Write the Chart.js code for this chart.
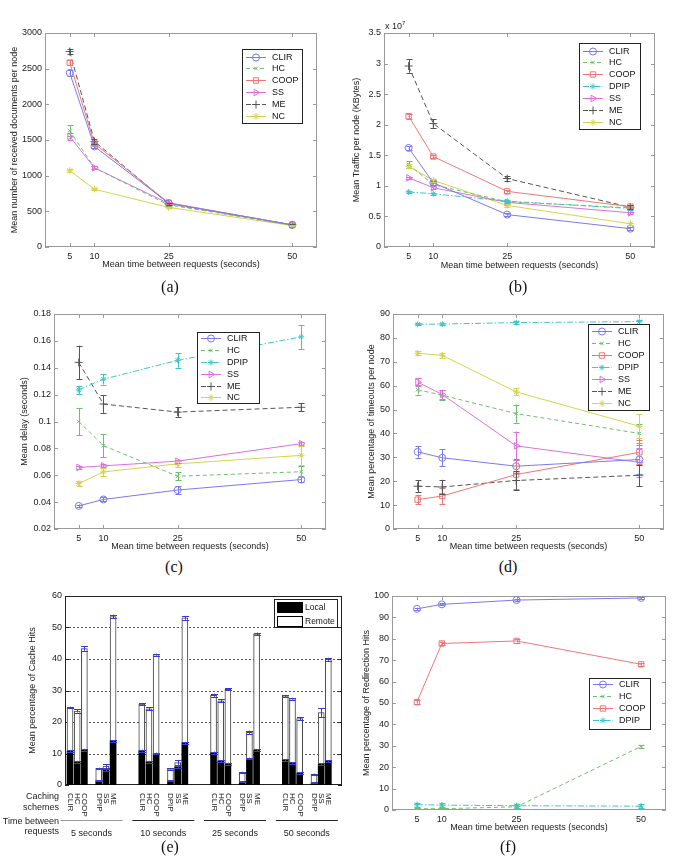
<!DOCTYPE html>
<html>
<head>
<meta charset="utf-8">
<script src="https://cdn.jsdelivr.net/npm/chart.js@4.4.0/dist/chart.umd.min.js"></script>
<style>
  html, body { margin: 0; padding: 0; background: #fff; }
  body { width: 685px; height: 868px; position: relative; overflow: hidden; }
  canvas { position: absolute; }
  .cap { position: absolute; font-family: "Liberation Serif", "Times New Roman", serif; font-size: 16px; color: #111; transform: translate(-50%, -50%); }
  .exp { position: absolute; font-family: "Liberation Sans", Arial, sans-serif; font-size: 9px; color: #222; }
  .exp sup { font-size: 6px; }
</style>
</head>
<body>
<canvas id="chartA"></canvas>
<canvas id="chartB"></canvas>
<canvas id="chartC"></canvas>
<canvas id="chartD"></canvas>
<canvas id="chartE"></canvas>
<canvas id="chartF"></canvas>
<div class="exp" style="left:385px;top:20px">x 10<sup>7</sup></div>
<div class="cap" style="left:170px;top:287px">(a)</div>
<div class="cap" style="left:518px;top:287px">(b)</div>
<div class="cap" style="left:174px;top:567px">(c)</div>
<div class="cap" style="left:508px;top:567px">(d)</div>
<div class="cap" style="left:170px;top:847px">(e)</div>
<div class="cap" style="left:508px;top:847px">(f)</div>
<script>
const times = [5, 10, 25, 50]
const timeTicks = [5, 10, 25, 50]

// (a) mean number of received documents per node
const docsTicks = [0, 500, 1000, 1500, 2000, 2500, 3000]
const docsCLIR = [2440, 1410, 615, 310]
const docsHC = [1630, 1110, 590, 305]
const docsCOOP = [2585, 1450, 620, 310]
const docsSS = [1550, 1110, 610, 310]
const docsME = [2740, 1480, 605, 310]
const docsNC = [1070, 810, 555, 300]
const docsErrCLIR = [40, 25, 15, 10]
const docsErrHC = [75, 20, 15, 10]
const docsErrCOOP = [35, 25, 15, 10]
const docsErrSS = [45, 20, 15, 10]
const docsErrME = [40, 30, 15, 10]
const docsErrNC = [20, 15, 10, 10]

// (b) mean traffic per node (x 10^7 KBytes)
const trafficTicks = [0, 0.5, 1, 1.5, 2, 2.5, 3, 3.5]
const trafficCLIR = [1.62, 1.05, 0.53, 0.30]
const trafficHC = [1.35, 1.02, 0.74, 0.64]
const trafficCOOP = [2.14, 1.48, 0.91, 0.66]
const trafficDPIP = [0.90, 0.87, 0.75, 0.63]
const trafficSS = [1.13, 0.97, 0.73, 0.56]
const trafficME = [2.96, 2.02, 1.12, 0.65]
const trafficNC = [1.32, 1.09, 0.68, 0.38]
const trafficErrCLIR = [0.03, 0.03, 0.02, 0.02]
const trafficErrHC = [0.05, 0.03, 0.02, 0.02]
const trafficErrCOOP = [0.04, 0.03, 0.02, 0.02]
const trafficErrDPIP = [0.02, 0.02, 0.02, 0.02]
const trafficErrSS = [0.02, 0.02, 0.02, 0.02]
const trafficErrME = [0.11, 0.07, 0.04, 0.03]
const trafficErrNC = [0.03, 0.03, 0.02, 0.02]

// (c) mean delay (seconds)
const delayTicks = [0.02, 0.04, 0.06, 0.08, 0.1, 0.12, 0.14, 0.16, 0.18]
const delayCLIR = [0.0372, 0.042, 0.049, 0.0568]
const delayHC = [0.100, 0.082, 0.0593, 0.0626]
const delayDPIP = [0.1235, 0.1315, 0.1455, 0.163]
const delaySS = [0.0658, 0.067, 0.0705, 0.0835]
const delayME = [0.144, 0.113, 0.107, 0.1106]
const delayNC = [0.0538, 0.0625, 0.0685, 0.0748]
const delayErrCLIR = [0.001, 0.0015, 0.003, 0.002]
const delayErrHC = [0.01, 0.0085, 0.003, 0.004]
const delayErrDPIP = [0.003, 0.004, 0.0055, 0.009]
const delayErrSS = [0.0012, 0.0012, 0.0012, 0.0012]
const delayErrME = [0.0125, 0.0065, 0.0035, 0.003]
const delayErrNC = [0.002, 0.003, 0.002, 0.007]

// (d) mean percentage of timeouts per node
const timeoutTicks = [0, 10, 20, 30, 40, 50, 60, 70, 80, 90]
const timeoutCLIR = [32.3, 29.8, 26.3, 29.1]
const timeoutHC = [58.3, 56.0, 48.3, 40.0]
const timeoutCOOP = [12.3, 13.8, 22.8, 32.1]
const timeoutDPIP = [85.7, 85.8, 86.4, 86.8]
const timeoutSS = [61.5, 56.3, 34.8, 27.9]
const timeoutME = [17.9, 17.6, 20.3, 22.5]
const timeoutNC = [73.6, 72.7, 57.4, 43.0]
const timeoutErrCLIR = [2.5, 3.5, 3, 6]
const timeoutErrHC = [2, 2, 3.8, 4]
const timeoutErrCOOP = [2, 3.5, 6, 5]
const timeoutErrDPIP = [0.5, 0.5, 0.5, 0.8]
const timeoutErrSS = [1.5, 2, 6, 6]
const timeoutErrME = [2.5, 3, 4, 4.5]
const timeoutErrNC = [0.8, 1, 1.5, 5]

// (e) mean percentage of cache hits
const hitTicks = [0, 10, 20, 30, 40, 50, 60]
const hitSchemes = ['CLIR', 'HC', 'COOP', 'DPIP', 'SS', 'ME']
const hitGroups = ['5 seconds', '10 seconds', '25 seconds', '50 seconds']
const localHits5 = [10.7, 7.4, 11.2, 1.4, 4.8, 14.0]
const localHits10 = [10.9, 7.4, 10.0, 1.4, 5.8, 13.4]
const localHits25 = [10.3, 7.6, 6.8, 1.0, 8.4, 11.0]
const localHits50 = [7.9, 7.0, 3.7, 0.7, 6.6, 7.6]
const remoteHits5 = [13.9, 16.1, 32.1, 3.9, 1.2, 39.5]
const remoteHits10 = [14.8, 16.8, 31.4, 3.7, 1.3, 39.7]
const remoteHits25 = [18.2, 19.1, 23.6, 3.0, 8.3, 37.0]
const remoteHits50 = [20.4, 20.4, 17.4, 2.7, 16.4, 32.3]
const localErr5 = [0.3, 0.3, 0.3, 0.2, 0.4, 0.3]
const localErr10 = [0.3, 0.3, 0.3, 0.2, 0.4, 0.3]
const localErr25 = [0.3, 0.3, 0.3, 0.2, 0.3, 0.3]
const localErr50 = [0.3, 0.3, 0.3, 0.2, 0.3, 0.3]
const totalErr5 = [0.3, 0.5, 0.7, 0.2, 0.7, 0.6]
const totalErr10 = [0.2, 0.5, 0.3, 0.2, 0.7, 0.6]
const totalErr25 = [0.5, 0.5, 0.3, 0.2, 0.6, 0.4]
const totalErr50 = [0.3, 0.3, 0.5, 0.2, 1.4, 0.5]

// (f) mean percentage of redirection hits
const redirTicks = [0, 10, 20, 30, 40, 50, 60, 70, 80, 90, 100]
const redirCLIR = [94.0, 96.1, 98.1, 99.1]
const redirHC = [0.6, 0.6, 1.5, 29.7]
const redirCOOP = [50.4, 77.8, 79.0, 68.1]
const redirDPIP = [2.5, 2.3, 2.0, 1.8]
const redirErrCLIR = [0.5, 0.5, 0.5, 0.5]
const redirErrHC = [0.3, 0.3, 0.4, 0.5]
const redirErrCOOP = [0.8, 0.8, 0.8, 0.8]
const redirErrDPIP = [1, 1, 1, 0.8]

const FONT = '"Liberation Sans", Arial, Helvetica, sans-serif'
Chart.defaults.font.family = FONT
Chart.defaults.font.size = 9
Chart.defaults.color = '#222'

const schemeStyle = {
  CLIR: { color: '#7a7aee', dash: [], point: 'circle', r: 3.5 },
  HC: { color: '#6cbf6c', dash: [4, 3], point: 'crossRot', r: 2.5 },
  COOP: { color: '#f07676', dash: [], point: 'rect', r: 3.8 },
  DPIP: { color: '#3ec6c6', dash: [6, 2, 1.5, 2], point: 'star', r: 3 },
  SS: { color: '#dd70dd', dash: [], point: 'triangle', r: 3.8, rot: 90 },
  ME: { color: '#555555', dash: [5, 3], point: 'cross', r: 4 },
  NC: { color: '#d4d44c', dash: [], point: 'star', r: 3.3 }
}

// box round the plot area, matlab style inward ticks, optional dotted grid
const matlabAxes = {
  id: 'matlabAxes',
  beforeDatasetsDraw (chart, args, o) {
    const { ctx, chartArea: a, scales: { x, y } } = chart
    ctx.save()
    ctx.lineWidth = 1
    if (o.grid) {
      ctx.strokeStyle = o.gridColor
      ctx.setLineDash([2, 2])
      ctx.beginPath()
      o.grid.forEach(v => {
        const p = Math.round(y.getPixelForValue(v)) + 0.5
        ctx.moveTo(a.left, p)
        ctx.lineTo(a.right, p)
      })
      ctx.stroke()
      ctx.setLineDash([])
    }
    ctx.strokeStyle = o.color
    ctx.strokeRect(a.left + 0.5, a.top + 0.5, a.width - 1, a.height - 1)
    ctx.beginPath()
    y.ticks.forEach(t => {
      const p = Math.round(y.getPixelForValue(t.value)) + 0.5
      ctx.moveTo(a.left, p); ctx.lineTo(a.left + 4, p)
      ctx.moveTo(a.right, p); ctx.lineTo(a.right - 4, p)
    })
    if (o.xTicks) {
      x.ticks.forEach(t => {
        const p = Math.round(x.getPixelForValue(t.value)) + 0.5
        ctx.moveTo(p, a.bottom); ctx.lineTo(p, a.bottom - 4)
        ctx.moveTo(p, a.top); ctx.lineTo(p, a.top + 4)
      })
    }
    ctx.stroke()
    ctx.restore()
  }
}

const errorBars = {
  id: 'errorBars',
  afterDatasetsDraw (chart, args, o) {
    const { ctx, scales: { y } } = chart
    chart.data.datasets.forEach((ds, di) => {
      if (!ds.errors) return
      const meta = chart.getDatasetMeta(di)
      ctx.save()
      ctx.strokeStyle = ds.errorColor || ds.borderColor
      ctx.lineWidth = 1
      ctx.beginPath()
      meta.data.forEach((el, i) => {
        const d = Math.abs(y.getPixelForValue(ds.errors[i]) - y.getPixelForValue(0))
        const x = Math.round(el.x) + 0.5
        const w = o.cap
        ctx.moveTo(x, el.y - d); ctx.lineTo(x, el.y + d)
        ctx.moveTo(x - w, Math.round(el.y - d) + 0.5); ctx.lineTo(x + w, Math.round(el.y - d) + 0.5)
        ctx.moveTo(x - w, Math.round(el.y + d) + 0.5); ctx.lineTo(x + w, Math.round(el.y + d) + 0.5)
      })
      ctx.stroke()
      ctx.restore()
    })
  }
}

// legend box drawn inside the plot like the matlab one
const boxLegend = {
  id: 'boxLegend',
  afterDraw (chart, args, o) {
    if (!o || o.x === undefined) return
    const { ctx } = chart
    ctx.save()
    ctx.fillStyle = '#fff'
    ctx.fillRect(o.x, o.y, o.w, o.h)
    ctx.strokeStyle = '#222'
    ctx.lineWidth = 1
    ctx.strokeRect(o.x + 0.5, o.y + 0.5, o.w, o.h)
    ctx.font = (o.size || 9) + 'px ' + FONT
    ctx.textBaseline = 'middle'
    ctx.textAlign = 'left'
    chart.data.datasets.forEach((ds, i) => {
      const cy = Math.round(o.y + o.first + i * o.row) + 0.5
      if (o.swatch) {
        ctx.fillStyle = ds.backgroundColor
        ctx.fillRect(o.x + 3, cy - 5, 25, 10)
        ctx.strokeStyle = '#000'
        ctx.strokeRect(o.x + 3.5, cy - 5, 25, 10)
      } else {
        ctx.strokeStyle = ds.borderColor
        ctx.setLineDash(ds.borderDash || [])
        ctx.beginPath()
        ctx.moveTo(o.x + 4, cy); ctx.lineTo(o.x + 24, cy)
        ctx.stroke()
        ctx.setLineDash([])
        if (Chart.helpers && Chart.helpers.drawPoint) {
          ctx.fillStyle = 'rgba(0,0,0,0)'
          Chart.helpers.drawPoint(ctx, { pointStyle: ds.pointStyle, radius: ds.pointRadius, rotation: ds.pointRotation || 0, borderWidth: 1 }, o.x + 14, cy)
        }
      }
      ctx.fillStyle = '#111'
      ctx.fillText(ds.label, o.x + o.tx, cy)
    })
    ctx.restore()
  }
}

function placeCanvas (id, box) {
  const cv = document.getElementById(id)
  cv.width = box.w
  cv.height = box.h
  cv.style.left = box.x + 'px'
  cv.style.top = box.y + 'px'
  return cv
}

function seriesSet (list) {
  return list.map(([name, values, errors]) => {
    const st = schemeStyle[name]
    return {
      label: name,
      data: values.map((v, i) => ({ x: times[i], y: v })),
      errors: errors,
      borderColor: st.color,
      borderWidth: 1,
      borderDash: st.dash,
      pointStyle: st.point,
      pointRadius: st.r,
      pointRotation: st.rot || 0,
      pointBorderColor: st.color,
      pointBackgroundColor: 'rgba(0,0,0,0)',
      pointBorderWidth: 1,
      tension: 0,
      fill: false
    }
  })
}

function yScale (p, extra) {
  const { box, plot } = p
  return Object.assign({
    min: p.yTicks[0],
    max: p.yTicks[p.yTicks.length - 1],
    afterBuildTicks: s => { s.ticks = p.yTicks.map(v => ({ value: v })) },
    afterFit: s => { s.width = plot.l - box.x },
    grid: { display: false, drawTicks: false },
    border: { display: false },
    ticks: { padding: 3, font: { size: 9 }, color: '#222', callback: v => String(+v.toFixed(4)) },
    title: { display: true, text: p.yTitle, font: { size: 9 }, color: '#222', padding: { top: p.ytx - box.x - 5.4, bottom: 0 } }
  }, extra)
}

function lineChart (p) {
  const { box, plot } = p
  const cv = placeCanvas(p.id, box)
  return new Chart(cv, {
    type: 'line',
    data: { datasets: seriesSet(p.series) },
    options: {
      responsive: false,
      animation: false,
      events: [],
      layout: { padding: { left: 0, top: plot.t - box.y, right: box.x + box.w - plot.r, bottom: 0 } },
      scales: {
        x: {
          type: 'linear',
          min: 0,
          max: 55,
          afterBuildTicks: s => { s.ticks = timeTicks.map(v => ({ value: v })) },
          afterFit: s => { s.height = box.y + box.h - plot.b },
          grid: { display: false, drawTicks: false },
          border: { display: false },
          ticks: { padding: 4, font: { size: 9 }, color: '#222', maxRotation: 0 },
          title: { display: true, text: 'Mean time between requests (seconds)', font: { size: 9 }, color: '#222', padding: { top: 0, bottom: box.y + box.h - p.xty - 5.4 } }
        },
        y: yScale(p)
      },
      plugins: {
        legend: { display: false },
        tooltip: { enabled: false },
        matlabAxes: { color: '#9a9a9a', xTicks: true },
        errorBars: { cap: 3 },
        boxLegend: p.legend
      }
    },
    plugins: [matlabAxes, errorBars, boxLegend]
  })
}

lineChart({
  id: 'chartA',
  box: { x: 0, y: 0, w: 340, h: 272 },
  plot: { l: 45, t: 33, r: 317, b: 247 },
  ytx: 15, xty: 265,
  yTicks: docsTicks,
  yTitle: 'Mean number of received documents per node',
  series: [['CLIR', docsCLIR, docsErrCLIR], ['HC', docsHC, docsErrHC], ['COOP', docsCOOP, docsErrCOOP],
    ['SS', docsSS, docsErrSS], ['ME', docsME, docsErrME], ['NC', docsNC, docsErrNC]],
  legend: { x: 242, y: 49, w: 60, h: 74, first: 7.5, row: 11.9, tx: 30 }
})

lineChart({
  id: 'chartB',
  box: { x: 340, y: 0, w: 345, h: 272 },
  plot: { l: 384, t: 33, r: 655, b: 247 },
  ytx: 357, xty: 266,
  yTicks: trafficTicks,
  yTitle: 'Mean Traffic per node (KBytes)',
  series: [['CLIR', trafficCLIR, trafficErrCLIR], ['HC', trafficHC, trafficErrHC], ['COOP', trafficCOOP, trafficErrCOOP],
    ['DPIP', trafficDPIP, trafficErrDPIP], ['SS', trafficSS, trafficErrSS], ['ME', trafficME, trafficErrME], ['NC', trafficNC, trafficErrNC]],
  legend: { x: 239, y: 43, w: 61, h: 86, first: 7.5, row: 11.85, tx: 30 }
})

lineChart({
  id: 'chartC',
  box: { x: 0, y: 290, w: 340, h: 263 },
  plot: { l: 54, t: 314, r: 326, b: 529 },
  ytx: 25, xty: 547,
  yTicks: delayTicks,
  yTitle: 'Mean delay (seconds)',
  series: [['CLIR', delayCLIR, delayErrCLIR], ['HC', delayHC, delayErrHC], ['DPIP', delayDPIP, delayErrDPIP],
    ['SS', delaySS, delayErrSS], ['ME', delayME, delayErrME], ['NC', delayNC, delayErrNC]],
  legend: { x: 197, y: 42, w: 62, h: 71, first: 5.9, row: 11.9, tx: 30 }
})

lineChart({
  id: 'chartD',
  box: { x: 340, y: 290, w: 345, h: 263 },
  plot: { l: 393, t: 314, r: 664, b: 529 },
  ytx: 372, xty: 547,
  yTicks: timeoutTicks,
  yTitle: 'Mean percentage of timeouts per node',
  series: [['CLIR', timeoutCLIR, timeoutErrCLIR], ['HC', timeoutHC, timeoutErrHC], ['COOP', timeoutCOOP, timeoutErrCOOP],
    ['DPIP', timeoutDPIP, timeoutErrDPIP], ['SS', timeoutSS, timeoutErrSS], ['ME', timeoutME, timeoutErrME], ['NC', timeoutNC, timeoutErrNC]],
  legend: { x: 248, y: 34, w: 61, h: 86, first: 7.3, row: 11.94, tx: 30 }
})

lineChart({
  id: 'chartF',
  box: { x: 345, y: 580, w: 340, h: 254 },
  plot: { l: 392, t: 596, r: 666, b: 810 },
  ytx: 367, xty: 828,
  yTicks: redirTicks,
  yTitle: 'Mean percentage of Redirection Hits',
  series: [['CLIR', redirCLIR, redirErrCLIR], ['HC', redirHC, redirErrHC], ['COOP', redirCOOP, redirErrCOOP], ['DPIP', redirDPIP, redirErrDPIP]],
  legend: { x: 244, y: 98, w: 61, h: 51, first: 6.3, row: 11.9, tx: 30 }
})

// (e) stacked bars: 6 schemes per time group, gap after COOP, wider gap between groups
const slotOf = [0, 1, 2, 4, 5, 6]
function barPoints (groups) {
  const pts = []
  groups.forEach((vals, g) => vals.forEach((v, s) => pts.push({ x: g * 10 + slotOf[s], y: v })))
  return pts
}

const hitLabels = {
  id: 'hitLabels',
  afterDraw (chart) {
    const { ctx, chartArea: a } = chart
    const bars = chart.getDatasetMeta(0).data
    ctx.save()
    ctx.fillStyle = '#222'
    ctx.font = '8px ' + FONT
    ctx.textBaseline = 'middle'
    ctx.textAlign = 'left'
    bars.forEach((el, i) => {
      ctx.save()
      ctx.translate(Math.round(el.x), a.bottom + 8)
      ctx.rotate(Math.PI / 2)
      ctx.fillText(hitSchemes[i % hitSchemes.length], 0, 0)
      ctx.restore()
    })
    ctx.font = '9px ' + FONT
    ctx.textAlign = 'center'
    ctx.lineWidth = 1
    hitGroups.forEach((g, gi) => {
      const c = (bars[gi * 6].x + bars[gi * 6 + 5].x) / 2
      ctx.strokeStyle = gi === 0 ? '#999' : '#222'
      ctx.beginPath()
      ctx.moveTo(c - 31, a.bottom + 35.5)
      ctx.lineTo(c + 31, a.bottom + 35.5)
      ctx.stroke()
      ctx.fillText(g, c, a.bottom + 49)
    })
    ctx.textAlign = 'right'
    ctx.fillText('Caching', 59, a.bottom + 12)
    ctx.fillText('schemes', 59, a.bottom + 23)
    ctx.fillText('Time between', 59, a.bottom + 37)
    ctx.fillText('requests', 59, a.bottom + 47)
    ctx.restore()
  }
}

;(function () {
  const box = { x: 0, y: 580, w: 345, h: 262 }
  const plot = { l: 65, t: 596, r: 342, b: 785 }
  const p = { box, plot, ytx: 33, yTicks: hitTicks, yTitle: 'Mean percentage of Cache Hits' }
  const cv = placeCanvas('chartE', box)
  new Chart(cv, {
    type: 'bar',
    data: {
      datasets: [
        {
          label: 'Local',
          data: barPoints([localHits5, localHits10, localHits25, localHits50]),
          errors: [].concat(localErr5, localErr10, localErr25, localErr50),
          errorColor: '#3a3ad0',
          backgroundColor: '#000',
          borderColor: '#000',
          borderWidth: 0,
          barThickness: 6
        },
        {
          label: 'Remote',
          data: barPoints([remoteHits5, remoteHits10, remoteHits25, remoteHits50]),
          errors: [].concat(totalErr5, totalErr10, totalErr25, totalErr50),
          errorColor: '#3a3ad0',
          backgroundColor: '#fff',
          borderColor: '#444',
          borderWidth: 1,
          barThickness: 6
        }
      ]
    },
    options: {
      responsive: false,
      animation: false,
      events: [],
      layout: { padding: { left: 0, top: plot.t - box.y, right: box.x + box.w - plot.r, bottom: 0 } },
      scales: {
        x: {
          type: 'linear',
          stacked: true,
          offset: false,
          min: -0.7,
          max: 37.9,
          afterFit: s => { s.height = box.y + box.h - plot.b },
          grid: { display: false, drawTicks: false },
          border: { display: false },
          ticks: { display: false }
        },
        y: yScale(p, { stacked: true })
      },
      plugins: {
        legend: { display: false },
        tooltip: { enabled: false },
        matlabAxes: { color: '#222', xTicks: false, grid: [10, 20, 30, 40, 50], gridColor: '#555' },
        errorBars: { cap: 3.5 },
        boxLegend: { x: 274, y: 19, w: 63, h: 28, first: 7.5, row: 14, tx: 31, size: 8.5, swatch: true }
      }
    },
    plugins: [matlabAxes, errorBars, boxLegend, hitLabels]
  })
})()
</script>
</body>
</html>
